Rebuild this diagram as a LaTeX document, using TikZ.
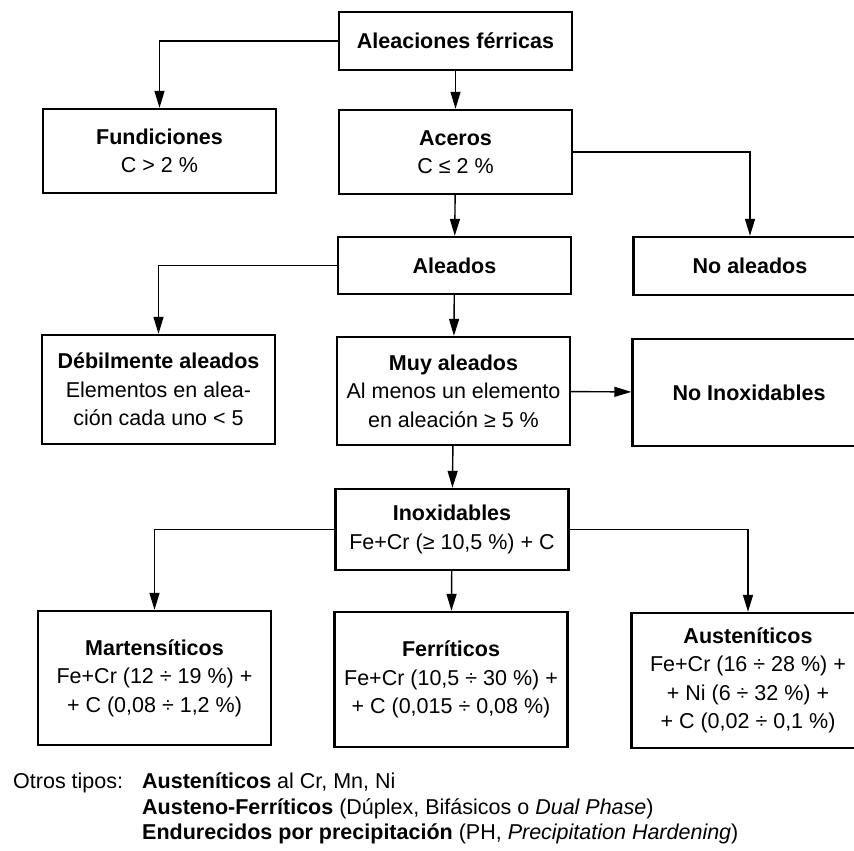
\documentclass[tikz,border=0pt]{standalone}
\usepackage{fontspec}
\setmainfont{Liberation Sans}
\usepackage{tikz}
\usetikzlibrary{arrows.meta, positioning}
\tikzstyle{arrow} = [line width=1.4pt, -{Triangle[length=17pt,width=10pt]}]
\tikzstyle{box} = [rectangle, draw=black, line width=2.4pt, minimum width=233pt, text centered, align=center, inner sep=2pt]

\begin{document}
\begin{tikzpicture}[x=1pt, y=-1pt, font=\fontsize{21.5}{28.5}\selectfont]
    % Frame (the scan cuts the right column)
    \useasboundingbox (0,0) rectangle (854,851);
    \clip (0,0) rectangle (854,851);

    % Top levels
    \node[box, minimum height=58pt] (aleaciones) at (455.5,41) {\textbf{Aleaciones férricas}};
    \node[box, minimum height=84pt] (fundiciones) at (159.5,151) {\textbf{Fundiciones}\\C > 2 \%};
    \node[box, minimum height=84pt] (aceros) at (455.5,152) {\textbf{Aceros}\\C ≤ 2 \%};
    \node[box, minimum height=57pt] (aleados) at (454.5,265.5) {\textbf{Aleados}};
    \node[box, minimum height=58pt] (noaleados) at (750,266) {\textbf{No aleados}};

    % Alloyed steels
    \node[box, minimum height=109pt] (debiles) at (158.5,389.5) {\textbf{Débilmente aleados}\\Elementos en alea-\\ción cada uno < 5};
    \node[box, minimum height=108pt] (muyaleados) at (453.5,391) {\textbf{Muy aleados}\\Al menos un elemento\\en aleación ≥ 5 \%};
    \node[box, minimum height=107pt] (noinox) at (749,392.5) {\textbf{No Inoxidables}};
    \node[box, minimum height=81pt] (inox) at (452,529.5) {\textbf{Inoxidables}\\Fe+Cr (≥ 10,5 \%) + C};

    % Stainless families
    \node[box, minimum height=134pt] (martens) at (154.5,678) {\textbf{Martensíticos}\\Fe+Cr (12 ÷ 19 \%) +\\+ C (0,08 ÷ 1,2 \%)};
    \node[box, minimum height=135pt] (ferrit) at (451,679.5) {\textbf{Ferríticos}\\Fe+Cr (10,5 ÷ 30 \%) +\\+ C (0,015 ÷ 0,08 \%)};
    \node[box, minimum height=135pt] (austen) at (748,680.5) {\textbf{Austeníticos}\\Fe+Cr (16 ÷ 28 \%) +\\+ Ni (6 ÷ 32 \%) +\\+ C (0,02 ÷ 0,1 \%)};

    % Connectors
    \draw[arrow] (aleaciones.west) -| (fundiciones.north);
    \draw[arrow] (aleaciones) -- (aceros);
    \draw[arrow] (aceros.east) -| (noaleados.north);
    \draw[arrow] (aceros) -- (aleados);
    \draw[arrow] (aleados.west) -| (debiles.north);
    \draw[arrow] (aleados) -- (muyaleados);
    \draw[arrow] (muyaleados) -- (noinox);
    \draw[arrow] (muyaleados) -- (inox);
    \draw[arrow] (inox.west) -| (martens.north);
    \draw[arrow] (inox) -- (ferrit);
    \draw[arrow] (inox.east) -| (austen.north);

    % Note below
    \node[anchor=base west, inner sep=0pt] (otros) at (13,788) {Otros tipos:};
    \node[anchor=north west, inner sep=0pt, align=left, font=\fontsize{21.5}{25.5}\selectfont] (otroslista) at (142,773)
        {\textbf{Austeníticos} al Cr, Mn, Ni\\
         \textbf{Austeno-Ferríticos} (Dúplex, Bifásicos o \textit{Dual Phase})\\
         \textbf{Endurecidos por precipitación} (PH, \textit{Precipitation Hardening})};
\end{tikzpicture}
\end{document}
